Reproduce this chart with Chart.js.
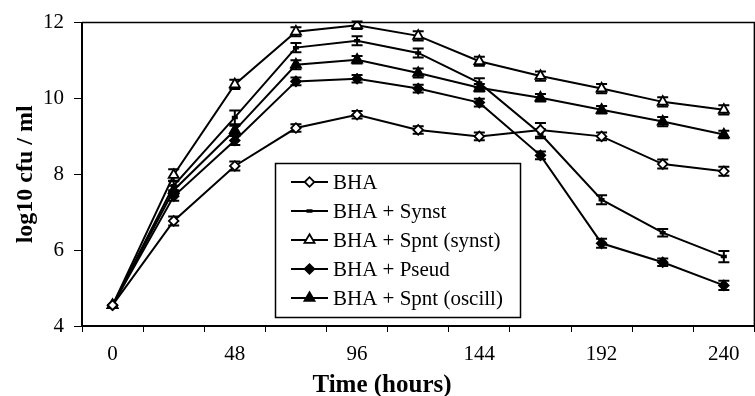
<!DOCTYPE html>
<html>
<head>
<meta charset="utf-8">
<script src="https://cdn.jsdelivr.net/npm/chart.js@4"></script>
<style>
  html, body { margin: 0; padding: 0; background: #fff; overflow: hidden; }
  #wrap { width: 762px; height: 396px; }
</style>
</head>
<body>
<div id="wrap"><canvas id="myChart" width="762" height="396"></canvas></div>
<script>
// datos
const hours = ['0', '24', '48', '72', '96', '120', '144', '168', '192', '216', '240'];
const yTicks = [4, 6, 8, 10, 12];

const bha        = [4.55, 6.77, 8.22, 9.22, 9.57, 9.17, 9.00, 9.17, 9.00, 8.27, 8.08];
const synst      = [4.55, 7.70, 9.50, 11.34, 11.52, 11.20, 10.41, 9.07, 7.33, 6.46, 5.83];
const spntSynst  = [4.55, 7.98, 10.37, 11.76, 11.93, 11.65, 10.98, 10.59, 10.26, 9.91, 9.70];
const pseud      = [4.55, 7.42, 8.89, 10.45, 10.52, 10.26, 9.89, 8.50, 6.18, 5.68, 5.07];
const spntOscill = [4.55, 7.58, 9.16, 10.89, 11.02, 10.67, 10.28, 10.02, 9.70, 9.39, 9.05];

// barras de error (+/-)
const bhaErr        = [0, 0.12, 0.12, 0.10, 0.10, 0.10, 0.10, 0.18, 0.10, 0.12, 0.12];
const synstErr      = [0, 0.12, 0.18, 0.12, 0.12, 0.12, 0.12, 0.12, 0.12, 0.10, 0.15];
const spntSynstErr  = [0, 0.15, 0.12, 0.12, 0.10, 0.12, 0.12, 0.12, 0.12, 0.12, 0.12];
const pseudErr      = [0, 0.12, 0.12, 0.10, 0.10, 0.10, 0.10, 0.10, 0.12, 0.10, 0.12];
const spntOscillErr = [0, 0.12, 0.12, 0.12, 0.10, 0.12, 0.10, 0.10, 0.10, 0.12, 0.10];

const serif = "'Liberation Serif', 'Times New Roman', serif";

function serie(label, data, errors, style, fill, radius, pointWidth) {
    return {
        label: label,
        data: data,
        errors: errors,
        borderColor: '#000',
        borderWidth: 2,
        pointStyle: style,
        pointRadius: radius,
        pointHoverRadius: radius,
        pointBackgroundColor: fill,
        pointBorderColor: '#000',
        pointBorderWidth: pointWidth,
        tension: 0,
        fill: false
    };
}

// error bars, drawn below the markers
const errorBars = {
    id: 'errorBars',
    beforeDatasetsDraw(chart) {
        const ctx = chart.ctx;
        const y = chart.scales.y;
        ctx.save();
        ctx.strokeStyle = '#000';
        ctx.lineWidth = 2;
        chart.data.datasets.forEach((ds, i) => {
            const meta = chart.getDatasetMeta(i);
            meta.data.forEach((pt, j) => {
                const e = ds.errors[j];
                if (!e) return;
                const top = y.getPixelForValue(ds.data[j] + e);
                const bot = y.getPixelForValue(ds.data[j] - e);
                ctx.beginPath();
                ctx.moveTo(pt.x, top); ctx.lineTo(pt.x, bot);
                ctx.moveTo(pt.x - 5.5, top); ctx.lineTo(pt.x + 5.5, top);
                ctx.moveTo(pt.x - 5.5, bot); ctx.lineTo(pt.x + 5.5, bot);
                ctx.stroke();
            });
        });
        ctx.restore();
    }
};

// frame top line, legend box and x title
const extras = {
    id: 'extras',
    afterDraw(chart) {
        const ctx = chart.ctx;
        const a = chart.chartArea;
        ctx.save();
        ctx.strokeStyle = '#000';
        ctx.lineWidth = 1.5;
        ctx.beginPath();
        ctx.moveTo(a.left, a.top);
        ctx.lineTo(a.right, a.top);
        ctx.lineTo(a.right, a.bottom);
        ctx.stroke();

        // legend
        ctx.fillStyle = '#fff';
        ctx.fillRect(275, 163, 245, 154);
        ctx.strokeRect(275.5, 163.5, 245, 154);
        ctx.font = '21px ' + serif;
        ctx.textBaseline = 'middle';
        chart.data.datasets.forEach((ds, i) => {
            const ry = 182 + i * 29;
            ctx.strokeStyle = '#000';
            ctx.lineWidth = 2;
            ctx.beginPath();
            ctx.moveTo(291, ry); ctx.lineTo(328, ry);
            ctx.stroke();
            ctx.fillStyle = ds.pointBackgroundColor;
            ctx.lineWidth = ds.pointBorderWidth;
            Chart.helpers.drawPoint(ctx, {
                pointStyle: ds.pointStyle,
                radius: ds.pointRadius,
                rotation: 0,
                borderWidth: ds.pointBorderWidth
            }, 309.5, ry);
            ctx.fillStyle = '#000';
            ctx.fillText(ds.label, 333, ry + 1);
        });

        ctx.font = 'bold 25px ' + serif;
        ctx.textAlign = 'center';
        ctx.textBaseline = 'alphabetic';
        ctx.fillText('Time (hours)', 382, 392);
        ctx.restore();
    }
};

const ctx = document.getElementById('myChart').getContext('2d');
const myChart = new Chart(ctx, {
    type: 'line',
    data: {
        labels: hours,
        datasets: [
            serie('BHA', bha, bhaErr, 'rectRot', '#fff', 4.8, 1.8),
            serie('BHA + Synst', synst, synstErr, 'line', '#000', 3, 3.5),
            serie('BHA + Spnt (synst)', spntSynst, spntSynstErr, 'triangle', '#fff', 5.8, 1.8),
            serie('BHA + Pseud', pseud, pseudErr, 'rectRot', '#000', 4.8, 1.8),
            serie('BHA + Spnt (oscill)', spntOscill, spntOscillErr, 'triangle', '#000', 5.8, 1.8)
        ]
    },
    options: {
        responsive: false,
        animation: false,
        layout: { padding: { top: 19, right: 2, left: 0, bottom: 0 } },
        plugins: {
            legend: { display: false },
            tooltip: { enabled: false }
        },
        scales: {
            x: {
                type: 'category',
                offset: true,
                grid: { offset: true, drawOnChartArea: false, tickLength: 6, color: '#000', lineWidth: 1 },
                border: { display: true, color: '#000', width: 2 },
                ticks: {
                    autoSkip: false,
                    maxRotation: 0,
                    padding: 10,
                    color: '#000',
                    font: { family: serif, size: 21 },
                    callback: function (value, index) {
                        return index % 2 === 0 ? this.getLabelForValue(value) : '';
                    }
                },
                afterFit: (scale) => { scale.height = 70; }
            },
            y: {
                min: 4,
                max: 12,
                afterBuildTicks: (scale) => { scale.ticks = yTicks.map(v => ({ value: v })); },
                grid: { drawOnChartArea: false, tickLength: 8, color: '#000', lineWidth: 1 },
                border: { display: true, color: '#000', width: 2 },
                ticks: {
                    padding: 10,
                    color: '#000',
                    font: { family: serif, size: 21 }
                },
                title: {
                    display: true,
                    text: 'log10 cfu / ml',
                    color: '#000',
                    font: { family: serif, size: 24, weight: 'bold' },
                    padding: { top: 11, bottom: 0 }
                },
                afterFit: (scale) => { scale.width = 82; }
            }
        }
    },
    plugins: [errorBars, extras]
});
</script>
</body>
</html>
